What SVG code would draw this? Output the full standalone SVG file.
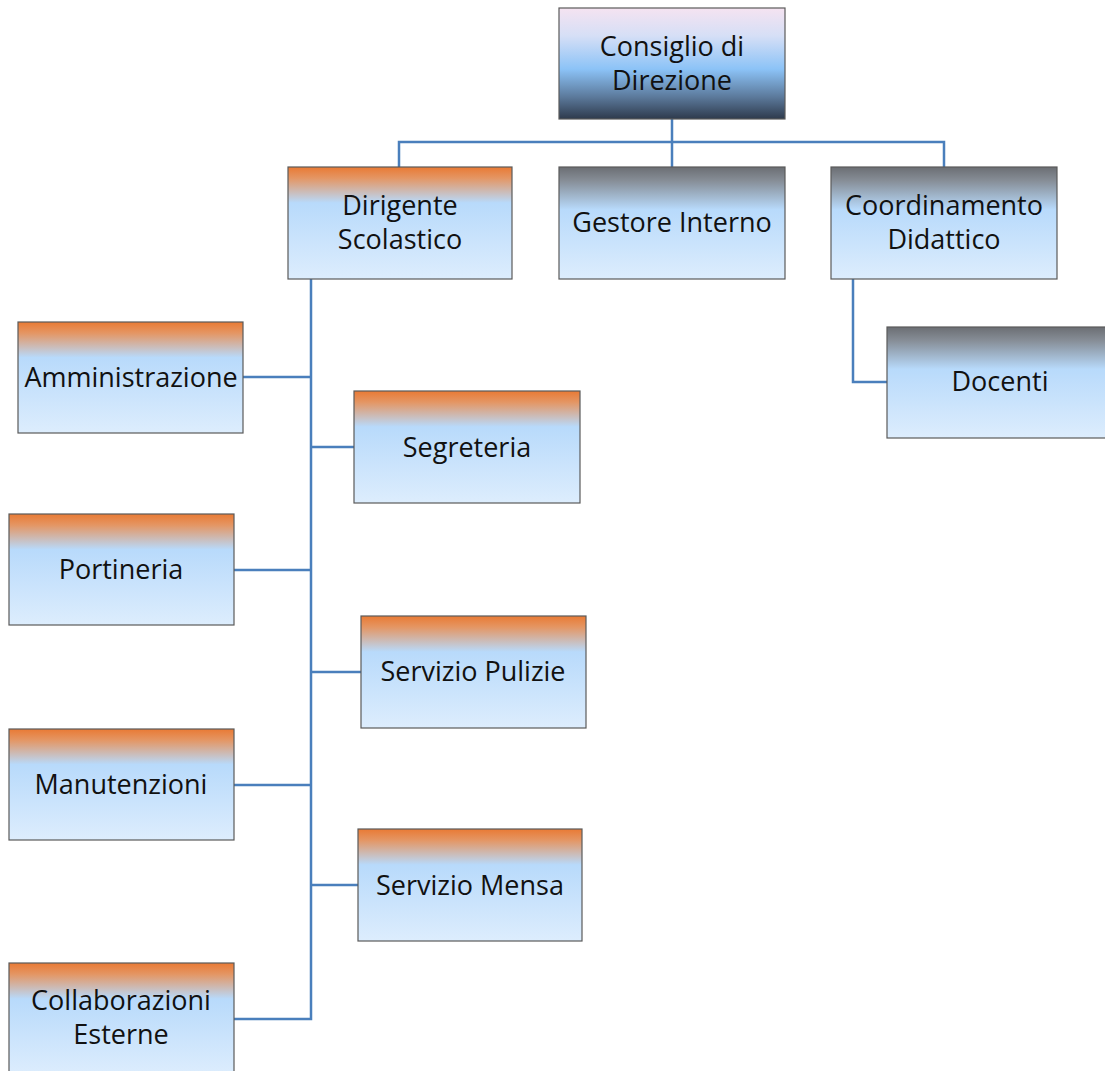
<svg xmlns="http://www.w3.org/2000/svg" width="1105" height="1071" viewBox="0 0 1105 1071">
<defs>
<linearGradient id="gOr" x1="0" y1="0" x2="0" y2="1">
<stop offset="0" stop-color="#e97a34"/>
<stop offset="0.1" stop-color="#e49664"/>
<stop offset="0.32" stop-color="#b8dafb"/>
<stop offset="1" stop-color="#ddedfd"/>
</linearGradient>
<linearGradient id="gGr" x1="0" y1="0" x2="0" y2="1">
<stop offset="0" stop-color="#6b6e73"/>
<stop offset="0.12" stop-color="#868d96"/>
<stop offset="0.38" stop-color="#b8dafb"/>
<stop offset="1" stop-color="#ddedfd"/>
</linearGradient>
<linearGradient id="gTop" x1="0" y1="0" x2="0" y2="1">
<stop offset="0" stop-color="#f5e3f1"/>
<stop offset="0.25" stop-color="#d6dff6"/>
<stop offset="0.55" stop-color="#8cc3f7"/>
<stop offset="0.8" stop-color="#5c7a9c"/>
<stop offset="1" stop-color="#2e3a4c"/>
</linearGradient>
</defs>
<style>
.box{stroke:#5a5a5a;stroke-width:1.2}
.t{font-family:"Open Sans","Noto Sans",sans-serif;font-size:27px;fill:#111;text-anchor:middle}
.c{fill:none;stroke:#4a7fbc;stroke-width:2.5}
</style>
<rect width="1105" height="1071" fill="#fff"/>
<g id="connectors">
<path class="c" d="M672 119V142M399 167V142H944V167M672 142V167"/>
<path class="c" d="M311 279V1019H234M311 377H243M311 447H354M311 570H234M311 672H361M311 785H234M311 885H358"/>
<path class="c" d="M853 279V382H887"/>
</g>
<g id="consiglio"><rect class="box" x="559" y="8" width="226" height="111" fill="url(#gTop)"/><text class="t" x="672" y="56">Consiglio di</text><text class="t" x="672" y="90">Direzione</text></g>
<g id="dirigente"><rect class="box" x="288" y="167" width="224" height="112" fill="url(#gOr)"/><text class="t" x="400" y="215">Dirigente</text><text class="t" x="400" y="249">Scolastico</text></g>
<g id="gestore"><rect class="box" x="559" y="167" width="226" height="112" fill="url(#gGr)"/><text class="t" x="672" y="232">Gestore Interno</text></g>
<g id="coordinamento"><rect class="box" x="831" y="167" width="226" height="112" fill="url(#gGr)"/><text class="t" x="944" y="215">Coordinamento</text><text class="t" x="944" y="249">Didattico</text></g>
<g id="docenti"><rect class="box" x="887" y="327" width="220" height="111" fill="url(#gGr)"/><text class="t" x="1000" y="391">Docenti</text></g>
<g id="amministrazione"><rect class="box" x="18" y="322" width="225" height="111" fill="url(#gOr)"/><text class="t" x="131" y="387">Amministrazione</text></g>
<g id="segreteria"><rect class="box" x="354" y="391" width="226" height="112" fill="url(#gOr)"/><text class="t" x="467" y="457">Segreteria</text></g>
<g id="portineria"><rect class="box" x="9" y="514" width="225" height="111" fill="url(#gOr)"/><text class="t" x="121" y="579">Portineria</text></g>
<g id="pulizie"><rect class="box" x="361" y="616" width="225" height="112" fill="url(#gOr)"/><text class="t" x="473" y="681">Servizio Pulizie</text></g>
<g id="manutenzioni"><rect class="box" x="9" y="729" width="225" height="111" fill="url(#gOr)"/><text class="t" x="121" y="794">Manutenzioni</text></g>
<g id="mensa"><rect class="box" x="358" y="829" width="224" height="112" fill="url(#gOr)"/><text class="t" x="470" y="895">Servizio Mensa</text></g>
<g id="collaborazioni"><rect class="box" x="9" y="963" width="225" height="112" fill="url(#gOr)"/><text class="t" x="121" y="1010">Collaborazioni</text><text class="t" x="121" y="1044">Esterne</text></g>
</svg>
